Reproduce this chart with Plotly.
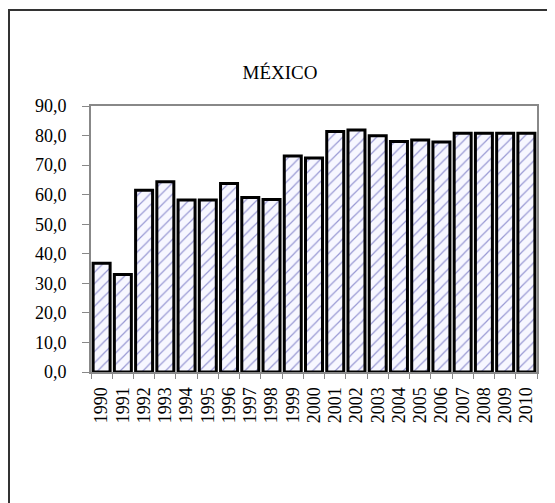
import plotly.graph_objects as go

years = [str(y) for y in range(1990, 2011)]
values = [36.8, 33.0, 61.5, 64.4, 58.2, 58.2, 63.8, 59.0, 58.4, 73.1, 72.4,
          81.4, 81.9, 79.9, 78.0, 78.5, 77.8, 80.8, 80.8, 80.8, 80.8]
y_ticks = [0, 10, 20, 30, 40, 50, 60, 70, 80, 90]
y_labels = [f"{v:.1f}".replace(".", ",") for v in y_ticks]

# the page body adds an 8px offset, so the figure is laid out 8px smaller
W, H = 547, 495
ml, mr, mt, mb = 83, 18, 98, 131
pw, ph = W - ml - mr, H - mt - mb

fig = go.Figure()
fig.add_trace(go.Bar(
    x=years, y=values,
    marker=dict(
        color="white",
        line=dict(color="black", width=3),
        pattern=dict(shape="/", fgcolor="#3a3aa8", bgcolor="#f7f7ff",
                     size=8, solidity=0.15),
    ),
))

fig.update_layout(
    width=W, height=H,
    margin=dict(l=ml, r=mr, t=mt, b=mb),
    paper_bgcolor="white", plot_bgcolor="white",
    font=dict(family="Liberation Serif", size=18, color="black"),
    bargap=0.2,
    showlegend=False,
    title=dict(text="MÉXICO", x=272 / W, xanchor="center",
               y=1 - 64 / H, yanchor="middle",
               font=dict(family="Liberation Serif", size=19)),
)
fig.update_xaxes(
    type="category", tickangle=-90,
    tickmode="array", tickvals=years, ticktext=years,
    showline=True, linecolor="#888888", linewidth=2, mirror=True,
    ticks="outside", ticklen=5, tickcolor="#888888",
    tickson="boundaries", ticklabelstandoff=6,
    tickfont=dict(size=18),
)
fig.update_yaxes(
    range=[0, 90], tickvals=y_ticks, ticktext=y_labels,
    showline=True, linecolor="#888888", linewidth=2, mirror=True,
    ticks="outside", ticklen=7, tickcolor="#888888",
    showgrid=False, zeroline=False, ticklabelstandoff=12,
    tickfont=dict(size=18),
)

# outer frame around the chart object (runs off the right and bottom edges)
fig.add_shape(type="rect", xref="paper", yref="paper",
              x0=(1 - ml) / pw, x1=(W + 10 - ml) / pw,
              y0=-(mb + 10) / ph, y1=(H - 2 - mb) / ph,
              line=dict(color="#333333", width=2))

fig.write_html("out.html")
